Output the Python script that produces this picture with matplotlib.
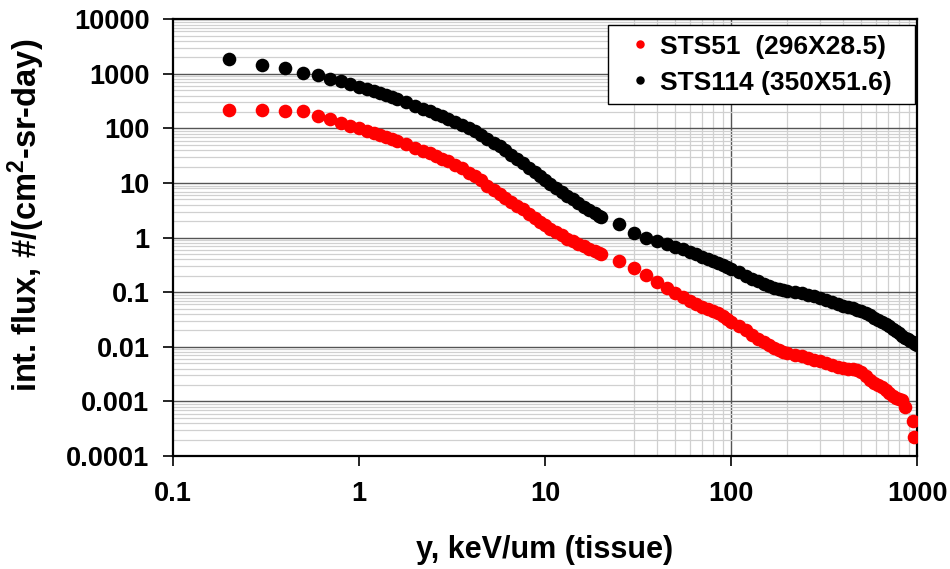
import matplotlib
matplotlib.use("Agg")
import matplotlib.pyplot as plt
import matplotlib.ticker as mticker

plt.rcParams['font.family'] = ['Liberation Sans', 'DejaVu Sans']
plt.rcParams['font.weight'] = 'bold'
plt.rcParams['mathtext.fontset'] = 'custom'
plt.rcParams['mathtext.rm'] = 'Liberation Sans:bold'
plt.rcParams['mathtext.bf'] = 'Liberation Sans:bold'
plt.rcParams['mathtext.default'] = 'bf'

# ------------------- data -------------------
# low-LET part, shared x for both flights
x_low = [0.2, 0.3, 0.4, 0.5, 0.6, 0.7, 0.8, 0.9, 1.0, 1.1, 1.2, 1.3, 1.4, 1.5, 1.6,
         1.8, 2.0, 2.2, 2.4, 2.6, 2.8, 3.0, 3.3, 3.6, 3.9, 4.2, 4.5, 4.9, 5.3, 5.7,
         6.1, 6.6, 7.1, 7.6, 8.2, 8.8, 9.4, 10.0, 10.7, 11.5, 12.3, 13.2, 14.1, 15.1,
         16.2, 17.3, 18.5, 19.5, 20.0]
sts114_low = [1850, 1450, 1260, 1050, 940, 800, 750, 650, 585, 530, 485, 440, 405, 372, 345,
              300, 262, 232, 207, 187, 168, 152, 133, 116, 101, 88, 77, 65, 55, 47,
              40, 33, 27.5, 23, 19, 15.8, 13.2, 11.2, 9.5, 8.1, 6.9, 5.9, 5.0, 4.3,
              3.7, 3.2, 2.8, 2.5, 2.35]
sts51_low = [215, 215, 213, 205, 170, 147, 125, 112, 100, 90, 82, 75, 69, 63, 58,
             51, 44, 39, 35, 31, 28, 25, 21.5, 18.5, 15.5, 13.3, 11.5, 9.0, 7.5, 6.3,
             5.4, 4.5, 3.8, 3.3, 2.75, 2.3, 1.95, 1.7, 1.45, 1.27, 1.1, 0.95, 0.85, 0.77,
             0.70, 0.63, 0.57, 0.52, 0.50]

# high-LET part
x_high = [25, 30, 35, 40, 45, 50, 55, 60, 65, 70, 75, 80, 85, 90, 95, 100,
          110, 120, 130, 140, 150, 160, 170, 180, 190, 200, 220, 240, 260, 280, 300,
          325, 350, 375, 400, 425, 450, 475, 500, 530, 560, 590, 620, 650, 680, 710,
          740, 770, 800, 830, 860]
sts114_high = [1.78, 1.24, 1.0, 0.88, 0.77, 0.67, 0.61, 0.555, 0.50, 0.45, 0.41, 0.38, 0.35, 0.32, 0.29, 0.265,
               0.23, 0.20, 0.178, 0.158, 0.142, 0.13, 0.12, 0.113, 0.108, 0.104, 0.099, 0.095, 0.09, 0.084, 0.078,
               0.071, 0.065, 0.06, 0.057, 0.054, 0.051, 0.048, 0.046, 0.042, 0.038, 0.034, 0.031, 0.029, 0.026, 0.024,
               0.0215, 0.0195, 0.0178, 0.016, 0.0148]
sts51_high = [0.38, 0.275, 0.207, 0.152, 0.118, 0.096, 0.081, 0.070, 0.061, 0.054, 0.049, 0.045, 0.041, 0.037, 0.033, 0.029,
              0.024, 0.020, 0.0168, 0.0142, 0.0122, 0.0108, 0.0097, 0.0088, 0.0081, 0.0076, 0.0071, 0.0067, 0.0063, 0.0058, 0.0054,
              0.005, 0.0046, 0.0043, 0.0041, 0.0040, 0.0039, 0.0037, 0.0034, 0.0029, 0.0025, 0.0022, 0.002, 0.0018, 0.0016, 0.0014,
              0.00125, 0.00115, 0.0011, 0.00105, 0.0008]

# end points
sts114_tail_x = [890, 920, 950, 980, 1000]
sts114_tail = [0.0138, 0.0128, 0.012, 0.0113, 0.0108]
sts51_tail_x = [955, 965]
sts51_tail = [0.00043, 0.00022]

labels = ["STS51  (296X28.5)", "STS114 (350X51.6)"]
y_ticks = [1e-4, 1e-3, 1e-2, 1e-1, 1, 10, 100, 1000, 10000]
x_ticks = [0.1, 1, 10, 100, 1000]

# ------------------- plot -------------------
fig = plt.figure(figsize=(9.5, 5.69), dpi=100)
ax = fig.add_axes([0.1821, 0.1986, 0.7832, 0.7675])
ax.set_xscale('log')
ax.set_yscale('log')
ax.set_xlim(0.1, 1000)
ax.set_ylim(1e-4, 1e4)

# grid: horizontal everywhere, vertical only beyond 30 (as in the original)
ax.yaxis.set_minor_locator(mticker.LogLocator(base=10, subs=range(2, 10), numticks=20))
ax.xaxis.set_minor_locator(mticker.FixedLocator([30, 40, 50, 60, 70, 80, 90,
                                                 200, 300, 400, 500, 600, 700, 800, 900]))
ax.yaxis.set_minor_formatter(mticker.NullFormatter())
ax.xaxis.set_minor_formatter(mticker.NullFormatter())
ax.grid(which='minor', axis='both', color='#d0d0d0', lw=0.9)
ax.grid(which='major', axis='y', color='#555555', lw=1.0)
ax.axvline(100, color='#555555', lw=1.0, zorder=0.5)
ax.set_axisbelow(True)

ax.plot(x_low + x_high + sts51_tail_x, sts51_low + sts51_high + sts51_tail,
        'o', color='#ff0000', ms=9.8, mec='none', label=labels[0], zorder=3)
ax.plot(x_low + x_high + sts114_tail_x, sts114_low + sts114_high + sts114_tail,
        'o', color='black', ms=9.8, mec='none', label=labels[1], zorder=3)

ax.set_yticks(y_ticks)
ax.set_xticks(x_ticks)
ax.yaxis.set_major_formatter(mticker.FuncFormatter(lambda v, p: '%g' % v))
ax.xaxis.set_major_formatter(mticker.FuncFormatter(lambda v, p: '%g' % v))
ax.tick_params(which='major', direction='out', length=7, width=1.2, labelsize=19.5)
ax.tick_params(axis='y', pad=10)
ax.tick_params(axis='x', pad=11)
ax.tick_params(which='minor', length=0)

for s in ax.spines.values():
    s.set_linewidth(1.6)
    s.set_color('black')

ax.set_xlabel('y, keV/um (tissue)', fontsize=22, fontweight='bold')
ax.set_ylabel(r'int. flux, #/(cm$^{2}$-sr-day)', fontsize=23.5, fontweight='bold')
ax.xaxis.set_label_coords(0.5, -0.18)
ax.yaxis.set_label_coords(-0.17, 0.55)

leg = ax.legend(loc='upper left', bbox_to_anchor=(0.585, 0.803, 0.412, 0.183), mode='expand',
                fontsize=19, frameon=True, fancybox=False, edgecolor='black', framealpha=1,
                markerscale=0.62, handletextpad=-0.1, handlelength=1.7,
                borderpad=0.35, labelspacing=0.45, borderaxespad=0)
leg.get_frame().set_linewidth(1.0)

fig.savefig('out.png', dpi=100)
